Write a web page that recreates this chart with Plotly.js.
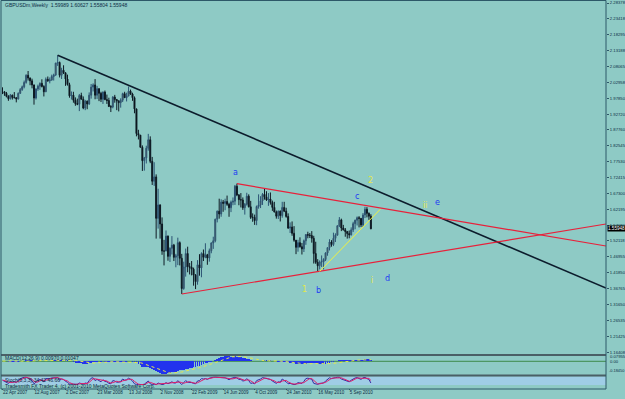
<!DOCTYPE html>
<html><head><meta charset="utf-8">
<script src="https://cdn.plot.ly/plotly-3.0.1.min.js"></script>
<style>html,body{margin:0;padding:0;background:#8ecac5;}#chart{width:625px;height:399px;}</style>
</head><body><div id="chart"></div>
<script>
// Weekly GBPUSD bars, 22 Apr 2007 .. 21 Nov 2010 (188 weeks)
const openP = [1.9990,1.9988,1.9940,1.9845,1.9770,1.9880,1.9810,1.9800,1.9760,1.9940,
2.0060,2.0150,2.0290,2.0520,2.0430,2.0340,2.0210,1.9790,2.0080,2.0170,
2.0260,2.0160,1.9990,2.0390,2.0340,2.0370,2.0480,2.0530,2.0910,2.0930,
2.0520,2.0680,2.0600,2.0400,2.0220,1.9860,1.9880,1.9720,1.9610,1.9590,
1.9870,1.9750,1.9470,1.9690,1.9600,1.9880,2.0140,2.0210,1.9880,2.0090,
1.9940,1.9750,1.9980,1.9740,1.9710,1.9520,1.9500,1.9820,1.9740,1.9700,
1.9640,1.9720,1.9930,1.9800,1.9860,2.0010,1.9920,1.9800,1.9440,1.8650,
1.8600,1.8210,1.7780,1.7870,1.8180,1.8450,1.7760,1.7120,1.7260,1.5930,
1.6360,1.5750,1.4880,1.4880,1.5360,1.4710,1.4970,1.5070,1.4680,1.4730,
1.5150,1.4650,1.3680,1.4370,1.4800,1.4380,1.4360,1.4300,1.4110,1.3900,
1.4440,1.4340,1.4800,1.4680,1.4760,1.4660,1.4890,1.5140,1.5210,1.5900,
1.6160,1.6070,1.6450,1.6410,1.6470,1.6380,1.6270,1.6450,1.6480,1.6960,
1.6680,1.6530,1.6520,1.6270,1.6380,1.6640,1.6300,1.5960,1.5960,1.5860,
1.6310,1.6360,1.6490,1.6700,1.6620,1.6520,1.6550,1.6440,1.6280,1.6130,
1.6000,1.6160,1.6020,1.6280,1.6160,1.5990,1.5620,1.5650,1.5450,1.5230,
1.5000,1.5150,1.5020,1.4950,1.5210,1.5410,1.5390,1.5380,1.5290,1.4800,
1.4520,1.4410,1.4530,1.4540,1.4610,1.4820,1.4990,1.5170,1.5090,1.5290,
1.5390,1.5690,1.5880,1.5620,1.5560,1.5510,1.5440,1.5400,1.5560,1.5760,
1.5870,1.5950,1.5930,1.5720,1.6040,1.6220,1.6090,1.59989];
const highP = [2.0133,2.0010,1.9985,1.9880,1.9920,1.9900,1.9980,1.9815,1.9970,2.0110,
2.0190,2.0350,2.0550,2.0656,2.0450,2.0410,2.0220,2.0100,2.0220,2.0290,
2.0390,2.0200,2.0450,2.0480,2.0450,2.0540,2.0570,2.0920,2.1161,2.0960,
2.0760,2.0840,2.0610,2.0540,2.0280,2.0000,1.9990,1.9810,1.9770,1.9920,
1.9960,1.9840,1.9730,1.9710,1.9970,2.0240,2.0260,2.0397,2.0180,2.0100,
1.9990,2.0000,2.0030,1.9900,1.9800,1.9560,1.9850,1.9890,1.9760,1.9710,
1.9780,1.9960,1.9990,1.9960,2.0158,2.0060,1.9960,1.9840,1.9450,1.8770,
1.8600,1.8270,1.7900,1.8260,1.8640,1.8560,1.7900,1.7730,1.7340,1.6880,
1.6380,1.5960,1.5240,1.5540,1.5380,1.5000,1.5360,1.5110,1.4790,1.5310,
1.5190,1.4790,1.4540,1.4960,1.5020,1.4500,1.4560,1.4350,1.4140,1.4590,
1.4780,1.4840,1.4930,1.5130,1.4790,1.4960,1.5160,1.5340,1.5920,1.6180,
1.6560,1.6540,1.6520,1.6560,1.6660,1.6430,1.6500,1.6600,1.7000,1.7043,
1.6710,1.6740,1.6600,1.6420,1.6750,1.6700,1.6490,1.6090,1.6050,1.6340,
1.6700,1.6640,1.6740,1.6880,1.6800,1.6740,1.6760,1.6500,1.6460,1.6180,
1.6180,1.6180,1.6460,1.6460,1.6270,1.6090,1.5800,1.5830,1.5680,1.5230,
1.5240,1.5320,1.5140,1.5250,1.5400,1.5500,1.5460,1.5520,1.5370,1.5180,
1.4620,1.4580,1.4740,1.4650,1.4840,1.4990,1.5260,1.5230,1.5470,1.5450,
1.5710,1.5970,1.5920,1.5720,1.5620,1.5520,1.5540,1.5640,1.5820,1.5890,
1.5990,1.6000,1.5930,1.6100,1.6300,1.6290,1.6120,1.60627];
const lowP = [1.9915,1.9860,1.9810,1.9700,1.9740,1.9740,1.9780,1.9650,1.9740,1.9920,
2.0020,2.0100,2.0250,2.0350,2.0200,2.0100,1.9577,1.9740,2.0020,2.0050,
2.0130,1.9840,1.9980,2.0310,2.0260,2.0340,2.0350,2.0500,2.0820,2.0450,
2.0400,2.0560,2.0180,2.0190,1.9800,1.9740,1.9640,1.9540,1.9560,1.9370,
1.9760,1.9430,1.9400,1.9430,1.9570,1.9770,2.0000,1.9750,1.9760,1.9690,
1.9660,1.9600,1.9720,1.9600,1.9500,1.9340,1.9460,1.9640,1.9400,1.9360,
1.9480,1.9660,1.9790,1.9680,1.9840,1.9890,1.9700,1.9300,1.8560,1.8460,
1.8200,1.7450,1.7460,1.7690,1.8100,1.7700,1.7000,1.6970,1.5280,1.5600,
1.5280,1.4760,1.4420,1.4880,1.4570,1.4530,1.4770,1.4560,1.4360,1.4430,
1.4420,1.3503,1.3640,1.4060,1.4200,1.4130,1.4100,1.3770,1.3660,1.3800,
1.4090,1.4040,1.4560,1.4650,1.4440,1.4540,1.4810,1.4950,1.5160,1.5800,
1.5920,1.5980,1.6140,1.6190,1.6330,1.5980,1.6130,1.6350,1.6360,1.6640,
1.6350,1.6280,1.6200,1.6050,1.6340,1.6280,1.5910,1.5820,1.5720,1.5710,
1.6240,1.6260,1.6360,1.6530,1.6490,1.6330,1.6370,1.6170,1.6130,1.5920,
1.5910,1.5830,1.5950,1.6130,1.5950,1.5590,1.5460,1.5370,1.5180,1.4781,
1.4860,1.4990,1.4770,1.4850,1.5080,1.5290,1.5300,1.5150,1.4480,1.4470,
1.4230,1.4290,1.4370,1.4290,1.4560,1.4730,1.4900,1.5020,1.5040,1.5170,
1.5380,1.5650,1.5520,1.5540,1.5340,1.5280,1.5290,1.5380,1.5490,1.5580,
1.5700,1.5640,1.5650,1.5650,1.5940,1.5960,1.5880,1.55804];
const closeP = [1.9988,1.9940,1.9845,1.9770,1.9880,1.9810,1.9800,1.9760,1.9940,2.0060,
2.0150,2.0290,2.0520,2.0430,2.0340,2.0210,1.9790,2.0080,2.0170,2.0260,
2.0160,1.9990,2.0390,2.0340,2.0370,2.0480,2.0530,2.0910,2.0930,2.0520,
2.0680,2.0600,2.0400,2.0220,1.9860,1.9880,1.9720,1.9610,1.9590,1.9870,
1.9750,1.9470,1.9690,1.9600,1.9880,2.0140,2.0210,1.9880,2.0090,1.9940,
1.9750,1.9980,1.9740,1.9710,1.9520,1.9500,1.9820,1.9740,1.9700,1.9640,
1.9720,1.9930,1.9800,1.9860,2.0010,1.9920,1.9800,1.9440,1.8650,1.8600,
1.8210,1.7780,1.7870,1.8180,1.8450,1.7760,1.7120,1.7260,1.5930,1.6360,
1.5750,1.4880,1.4880,1.5360,1.4710,1.4970,1.5070,1.4680,1.4730,1.5150,
1.4650,1.3680,1.4370,1.4800,1.4380,1.4360,1.4300,1.4110,1.3900,1.4440,
1.4340,1.4800,1.4680,1.4760,1.4660,1.4890,1.5140,1.5210,1.5900,1.6160,
1.6070,1.6450,1.6410,1.6470,1.6380,1.6270,1.6450,1.6480,1.6960,1.6680,
1.6530,1.6520,1.6270,1.6380,1.6640,1.6300,1.5960,1.5960,1.5860,1.6310,
1.6360,1.6490,1.6700,1.6620,1.6520,1.6550,1.6440,1.6280,1.6130,1.6000,
1.6160,1.6020,1.6280,1.6160,1.5990,1.5620,1.5650,1.5450,1.5230,1.5000,
1.5150,1.5020,1.4950,1.5210,1.5410,1.5390,1.5380,1.5290,1.4800,1.4520,
1.4410,1.4530,1.4540,1.4610,1.4820,1.4990,1.5170,1.5090,1.5290,1.5390,
1.5690,1.5880,1.5620,1.5560,1.5510,1.5440,1.5400,1.5560,1.5760,1.5870,
1.5950,1.5930,1.5720,1.6040,1.6220,1.6090,1.5999,1.55948];

// MACD panel (main line histogram + signal)
const macdHist = [0.004,0.003,0.001,-0.002,-0.002,-0.003,-0.003,-0.004,-0.002,0.001,
0.005,0.010,0.016,0.019,0.020,0.019,0.012,0.010,0.010,0.011,
0.011,0.008,0.010,0.011,0.012,0.014,0.016,0.021,0.026,0.026,
0.027,0.026,0.022,0.017,0.009,0.004,-0.006,-0.016,-0.024,-0.026,
-0.027,-0.031,-0.032,-0.032,-0.028,-0.018,-0.009,-0.006,-0.002,0.000,
-0.002,-0.001,-0.002,-0.004,-0.007,-0.010,-0.008,-0.007,-0.008,-0.009,
-0.009,-0.006,-0.005,-0.004,-0.001,-0.001,-0.002,-0.012,-0.030,-0.043,
-0.058,-0.075,-0.085,-0.088,-0.087,-0.095,-0.110,-0.120,-0.145,-0.152,
-0.165,-0.180,-0.184,-0.178,-0.176,-0.170,-0.160,-0.155,-0.148,-0.135,
-0.128,-0.132,-0.125,-0.112,-0.105,-0.097,-0.090,-0.085,-0.082,-0.072,
-0.062,-0.050,-0.040,-0.030,-0.022,-0.014,-0.004,0.006,0.022,0.040,
0.052,0.062,0.068,0.074,0.078,0.074,0.072,0.070,0.074,0.072,
0.066,0.060,0.052,0.045,0.042,0.034,0.022,0.012,0.004,0.004,
0.005,0.007,0.011,0.014,0.015,0.015,0.014,0.010,0.005,-0.001,
-0.004,-0.006,-0.003,-0.003,-0.005,-0.012,-0.017,-0.023,-0.030,-0.036,
-0.038,-0.040,-0.041,-0.038,-0.031,-0.024,-0.019,-0.016,-0.022,-0.030,
-0.038,-0.042,-0.043,-0.042,-0.037,-0.030,-0.021,-0.014,-0.007,0.000,
0.008,0.016,0.019,0.020,0.019,0.017,0.015,0.015,0.017,0.020,
0.023,0.024,0.023,0.025,0.029,0.030,0.029,0.024];
const macdSignal = [0.006,0.005,0.004,0.003,0.002,0.001,0.000,-0.001,-0.002,-0.002,
-0.001,0.000,0.002,0.004,0.007,0.009,0.011,0.012,0.013,0.014,
0.014,0.013,0.012,0.011,0.011,0.011,0.012,0.013,0.014,0.016,
0.017,0.019,0.020,0.021,0.021,0.020,0.017,0.013,0.008,0.002,
-0.004,-0.010,-0.016,-0.021,-0.025,-0.026,-0.025,-0.023,-0.020,-0.016,
-0.012,-0.008,-0.005,-0.003,-0.003,-0.004,-0.004,-0.005,-0.006,-0.007,
-0.008,-0.008,-0.008,-0.008,-0.007,-0.007,-0.006,-0.006,-0.008,-0.013,
-0.019,-0.027,-0.037,-0.047,-0.057,-0.067,-0.078,-0.088,-0.099,-0.110,
-0.122,-0.134,-0.146,-0.156,-0.164,-0.170,-0.172,-0.171,-0.169,-0.165,
-0.160,-0.155,-0.149,-0.142,-0.135,-0.126,-0.119,-0.113,-0.106,-0.099,
-0.091,-0.083,-0.075,-0.066,-0.057,-0.048,-0.039,-0.030,-0.019,-0.008,
0.003,0.014,0.025,0.036,0.047,0.056,0.063,0.068,0.071,0.072,
0.072,0.071,0.069,0.066,0.062,0.058,0.053,0.047,0.040,0.032,
0.024,0.017,0.012,0.010,0.009,0.010,0.010,0.010,0.010,0.009,
0.007,0.005,0.003,0.001,-0.001,-0.003,-0.006,-0.009,-0.013,-0.017,
-0.022,-0.027,-0.032,-0.035,-0.036,-0.036,-0.035,-0.033,-0.031,-0.029,
-0.028,-0.028,-0.030,-0.032,-0.034,-0.035,-0.034,-0.032,-0.029,-0.025,
-0.020,-0.014,-0.008,-0.002,0.003,0.008,0.012,0.015,0.017,0.018,
0.019,0.020,0.021,0.022,0.023,0.024,0.025,0.025];

// Stochastic panel
const stochK = [60,50,35,20,40,35,40,30,60,80,
90,95,97,85,70,55,15,40,55,70,60,40,
80,78,80,88,90,97,92,60,75,70,45,35,10,12,
8,5,8,25,22,10,25,20,55,85,90,55,70,60,
40,65,45,40,20,15,55,50,35,35,45,75,60,65,85,70,50,
15,5,8,4,5,10,35,50,15,5,10,5,25,15,5,10,30,15,30,40,25,25,
55,30,5,30,55,35,35,30,20,15,50,55,80,75,80,70,85,95,97,98,97,88,
92,85,90,80,65,82,85,97,88,70,70,50,55,80,55,20,25,
15,55,62,75,92,85,75,75,70,50,35,20,40,35,75,60,40,
15,20,12,5,10,30,25,20,45,80,85,82,72,20,15,8,20,25,
25,50,75,90,80,90,92,97,97,75,65,55,45,40,60,80,88,
92,85,70,90,95,80,70,25];
const stochD = [62,58,48,35,32,32,38,35,43,57,
77,88,94,92,84,70,47,37,37,55,62,57,
60,66,79,82,86,92,93,83,76,68,63,50,30,19,
10,8,7,13,18,19,19,18,33,53,77,77,72,62,
57,55,50,50,35,25,30,40,47,40,38,52,60,67,70,73,68,
45,23,9,6,6,6,17,32,33,23,10,7,13,15,15,10,15,18,25,28,32,30,
35,37,30,22,30,40,42,33,28,22,28,40,62,70,78,75,78,83,92,97,97,94,
92,88,89,85,78,76,77,88,90,85,76,63,58,62,63,52,33,
20,32,44,64,76,84,84,78,73,65,52,35,32,32,50,57,58,
38,25,16,12,9,15,22,25,30,48,70,82,80,58,36,14,14,18,
23,33,50,72,82,87,87,93,95,90,79,65,55,47,48,60,76,
87,88,82,82,85,88,82,58];

// Axis labels
const timeTickIdx = [0,16,32,48,64,80,96,112,128,144,160,176];
const timeTickText = ['22 Apr 2007','12 Aug 2007','2 Dec 2007','23 Mar 2008','13 Jul 2008','2 Nov 2008',
  '22 Feb 2009','14 Jun 2009','4 Oct 2009','24 Jan 2010','16 May 2010','5 Sep 2010'];
const priceTickText = ['2.28378','2.23418','2.18295','2.13188','2.08065','2.02958','1.97850','1.92720',
  '1.87760','1.82545','1.77530','1.72415','1.67300','1.62195','1.57080','1.52118','1.46955','1.41850',
  '1.36765','1.31650','1.26535','1.21425','1.16408'];

// Drawn objects (bar index, price)
const blackLineX = [28, 306.35], blackLineY = [2.1161, 1.3695];
const redUpperX = [119, 306.35], redUpperY = [1.7043, 1.5042];
const redLowerX = [91, 306.35], redLowerY = [1.3503, 1.5748];
const yellowX = [161, 191.9], yellowY = [1.4230, 1.6229];
const waveText = ['a','b','1','c','2','ii','e','i','d'];
const waveX = [118.3,160.4,153.3,180.2,186.8,214.7,220.8,187.8,195.4];
const waveY = [1.7416,1.3631,1.3663,1.6646,1.7128,1.6326,1.6422,1.3948,1.4012];
const waveColor = ['#1d3cf2','#1d3cf2','#e4e84a','#1d3cf2','#e4e84a','#e4e84a','#1d3cf2','#e4e84a','#1d3cf2'];

const idx = closeP.map((_, i) => i);
const BG = '#8ecac5';
const FONT = 'Liberation Sans, Arial, sans-serif';
const WFONT = 'DejaVu Sans, Arial, sans-serif';
const TXT = '#0b2a44';

const traces = [
  {type:'candlestick', x: idx, open: openP, high: highP, low: lowP, close: closeP,
   xaxis:'x', yaxis:'y', hoverinfo:'skip', whiskerwidth:0,
   increasing:{line:{color:'#2c5474', width:1}, fillcolor:'#7a6535'},
   decreasing:{line:{color:'#0e1a24', width:1}, fillcolor:'#000000'}},
  {type:'scatter', mode:'lines', x: blackLineX, y: blackLineY, line:{color:'#0c1c2c', width:1.6}, hoverinfo:'skip'},
  {type:'scatter', mode:'lines', x: redUpperX, y: redUpperY, line:{color:'#e8203a', width:1.2}, hoverinfo:'skip'},
  {type:'scatter', mode:'lines', x: redLowerX, y: redLowerY, line:{color:'#e8203a', width:1.2}, hoverinfo:'skip'},
  {type:'scatter', mode:'lines', x: yellowX, y: yellowY, line:{color:'#f2f23c', width:1}, hoverinfo:'skip'},
  {type:'bar', x: idx, y: macdHist, xaxis:'x', yaxis:'y2', marker:{color:'#2233ee', line:{width:0}}, width:0.9, hoverinfo:'skip'},
  {type:'scatter', mode:'lines', x: idx, y: macdSignal, xaxis:'x', yaxis:'y2', line:{color:'#e6e84a', width:1, dash:'dot'}, hoverinfo:'skip'},
  {type:'scatter', mode:'lines', x: idx, y: stochK, xaxis:'x', yaxis:'y3', line:{color:'#3a2aa0', width:1}, hoverinfo:'skip'},
  {type:'scatter', mode:'lines', x: idx, y: stochD, xaxis:'x', yaxis:'y3', line:{color:'#e0206a', width:1}, hoverinfo:'skip'}
];

const py = p => 1 - p/399;   // pixel row -> paper y
const pxx = p => p/625;      // pixel col -> paper x

const annotations = waveText.map((t, i) => ({
  x: waveX[i], y: waveY[i], xref:'x', yref:'y', text: t, showarrow:false,
  font:{family:WFONT, size:8, color: waveColor[i]}
}));
annotations.push(
  {xref:'paper', yref:'paper', x:pxx(3), y:py(5), xanchor:'left', yanchor:'middle', showarrow:false,
   text:'GBPUSDm,Weekly  1.59989 1.60627 1.55804 1.55948', font:{family:FONT, size:5, color:TXT}},
  {xref:'paper', yref:'paper', x:pxx(3), y:py(358), xanchor:'left', yanchor:'middle', showarrow:false,
   text:'MACD(12,26,9) 0.00970 0.01047', font:{family:FONT, size:5, color:TXT}},
  {xref:'paper', yref:'paper', x:pxx(3), y:py(380), xanchor:'left', yanchor:'middle', showarrow:false,
   text:'Stoch(5,3,3) 34.42 46.66', font:{family:FONT, size:5, color:TXT}},
  {xref:'paper', yref:'paper', x:pxx(3), y:py(386), xanchor:'left', yanchor:'middle', showarrow:false,
   text:'Tradesmith FX Trader 4, (c) 2001-2010 MetaQuotes Software Corp.', font:{family:FONT, size:5, color:TXT}},
  {xref:'paper', yref:'y', x:pxx(607), y:closeP[closeP.length-1], xanchor:'left', yanchor:'middle', showarrow:false,
   text:'1.55948', bgcolor:'#000000', borderpad:0, font:{family:FONT, size:4.6, color:'#ffffff'}},
  {xref:'paper', yref:'paper', x:pxx(608), y:py(356.5), xanchor:'left', yanchor:'middle', showarrow:false,
   text:'0.07955', font:{family:FONT, size:4.2, color:TXT}},
  {xref:'paper', yref:'paper', x:pxx(608), y:py(361.5), xanchor:'left', yanchor:'middle', showarrow:false,
   text:'0.00', font:{family:FONT, size:4.2, color:TXT}},
  {xref:'paper', yref:'paper', x:pxx(607), y:py(370), xanchor:'left', yanchor:'middle', showarrow:false,
   text:'-0.18450', font:{family:FONT, size:3.9, color:TXT}}
);

const shapes = [
  {type:'rect', xref:'paper', yref:'paper', x0:pxx(2), x1:pxx(606), y0:py(385), y1:py(376.5), fillcolor:'#9fcde6', line:{width:0}, layer:'below'},
  {type:'line', xref:'paper', yref:'paper', x0:pxx(2), x1:pxx(606), y0:py(361.3), y1:py(361.3), line:{color:'#3f8a4a', width:1}, layer:'below'},
  {type:'line', xref:'paper', yref:'paper', x0:pxx(1), x1:pxx(606), y0:py(355), y1:py(355), line:{color:'#4a5f66', width:2}},
  {type:'line', xref:'paper', yref:'paper', x0:pxx(1), x1:pxx(606), y0:py(375.5), y1:py(375.5), line:{color:'#4a5f66', width:2}},
  {type:'line', xref:'paper', yref:'paper', x0:pxx(1), x1:pxx(606), y0:py(389), y1:py(389), line:{color:'#2d5868', width:1}},
  {type:'line', xref:'paper', yref:'paper', x0:pxx(1), x1:pxx(606), y0:py(0.5), y1:py(0.5), line:{color:'#2d5868', width:1}},
  {type:'line', xref:'paper', yref:'paper', x0:pxx(1), x1:pxx(1), y0:py(0.5), y1:py(389), line:{color:'#2d5868', width:1}},
  {type:'line', xref:'paper', yref:'paper', x0:pxx(606), x1:pxx(606), y0:py(0.5), y1:py(389), line:{color:'#2d5868', width:1}}
];

const layout = {
  width:625, height:399, paper_bgcolor:BG, plot_bgcolor:BG,
  margin:{l:0, r:0, t:0, b:0}, showlegend:false, bargap:0,
  xaxis:{domain:[pxx(2), pxx(606)], range:[-0.25, 306.35], anchor:'y3',
    tickvals: timeTickIdx, ticktext: timeTickText, ticks:'outside', ticklen:1, tickcolor:'#2d5868', tickangle:0,
    ticklabelposition:'outside right', tickfont:{family:FONT, size:4.5, color:TXT},
    showgrid:false, zeroline:false, showline:false, rangeslider:{visible:false}, fixedrange:true},
  yaxis:{domain:[py(354), py(1)], range:[1.1578, 2.2902], side:'right', anchor:'x',
    tickvals: priceTickText.map(Number), ticktext: priceTickText, ticks:'outside', ticklen:2, tickcolor:'#2d5868',
    tickfont:{family:FONT, size:4.2, color:TXT}, showgrid:false, zeroline:false, showline:false},
  yaxis2:{domain:[py(374), py(356)], range:[-0.1845, 0.0796], side:'right', anchor:'x',
    showticklabels:false, ticks:'', showgrid:false, zeroline:false, showline:false},
  yaxis3:{domain:[py(388), py(376)], range:[-37.5, 112.5], side:'right', anchor:'x',
    showticklabels:false, ticks:'', showgrid:false, zeroline:false, showline:false},
  annotations, shapes
};

Plotly.newPlot('chart', traces, layout, {staticPlot:true, displayModeBar:false});
</script>
</body></html>
